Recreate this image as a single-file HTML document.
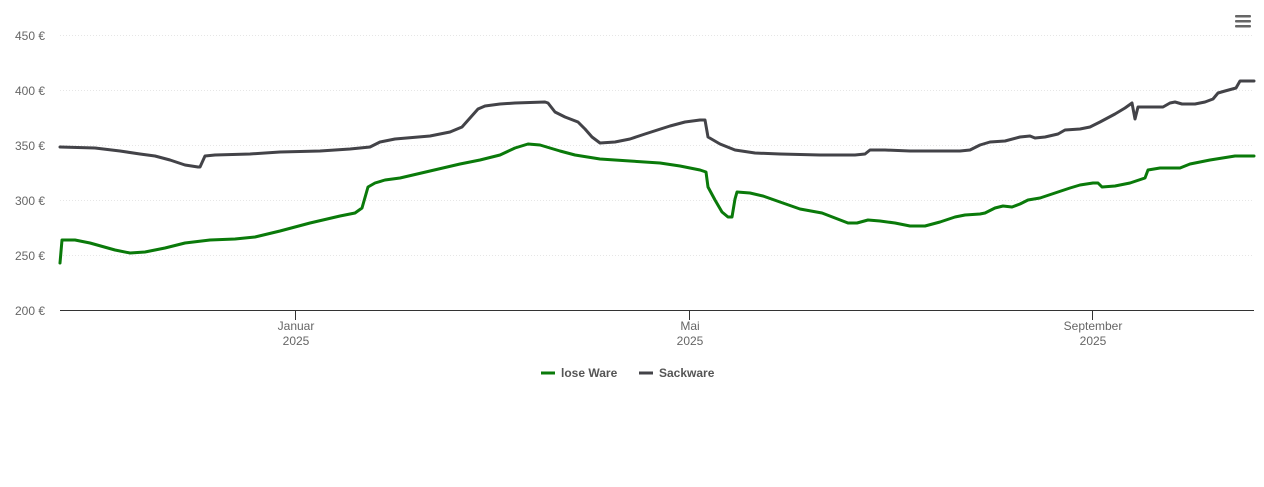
<!DOCTYPE html>
<html><head><meta charset="utf-8"><style>
body{margin:0;background:#fff;}
svg text{font-family:"Liberation Sans",Arial,sans-serif;}
</style></head><body>
<svg width="1264" height="482" xmlns="http://www.w3.org/2000/svg">
<g stroke="#e6e6e6" stroke-dasharray="1,2" stroke-width="1">
<line x1="60" y1="35.5" x2="1254" y2="35.5"/>
<line x1="60" y1="90.5" x2="1254" y2="90.5"/>
<line x1="60" y1="145.5" x2="1254" y2="145.5"/>
<line x1="60" y1="200.5" x2="1254" y2="200.5"/>
<line x1="60" y1="255.5" x2="1254" y2="255.5"/>
</g>
<line x1="60" y1="310.5" x2="1254" y2="310.5" stroke="#333" stroke-width="1"/>
<g stroke="#333"><line x1="295.5" y1="310" x2="295.5" y2="320"/><line x1="689.5" y1="310" x2="689.5" y2="320"/><line x1="1092.5" y1="310" x2="1092.5" y2="320"/></g>
<g font-size="12" fill="#666" text-anchor="end">
<text x="45" y="40">450 €</text><text x="45" y="95">400 €</text><text x="45" y="150">350 €</text>
<text x="45" y="205">300 €</text><text x="45" y="260">250 €</text><text x="45" y="315">200 €</text>
</g>
<g font-size="12" fill="#666" text-anchor="middle">
<text x="296" y="330">Januar</text><text x="296" y="345">2025</text>
<text x="690" y="330">Mai</text><text x="690" y="345">2025</text>
<text x="1093" y="330">September</text><text x="1093" y="345">2025</text>
</g>
<polyline fill="none" stroke="#434348" stroke-width="3" stroke-linejoin="round" stroke-linecap="round" points="60,147 95,148 120,151 140,154 155,156 170,160 185,165 198,167 200,167 205,156 215,155 250,154 280,152 320,151 350,149 370,147 380,142 395,139 430,136 450,132 462,127 470,118 478,109 485,106 500,104 515,103 545,102 548,103 555,112 565,117 578,122 585,129 592,137 600,143 615,142 630,139 645,134 670,126 685,122 700,120 705,120 708,137 720,144 735,150 755,153 780,154 820,155 855,155 865,154 870,150 885,150 910,151 960,151 970,150 980,145 990,142 1005,141 1020,137 1030,136 1035,138 1045,137 1058,134 1065,130 1080,129 1090,127 1100,122 1115,114 1125,108 1132,103 1135,119 1138,107 1150,107 1163,107 1170,103 1175,102 1182,104 1195,104 1205,102 1213,99 1218,93 1225,91 1236,88 1240,81 1254,81"/>
<polyline fill="none" stroke="#0a7a0a" stroke-width="3" stroke-linejoin="round" stroke-linecap="round" points="60,263 62,240 75,240 90,243 115,250 130,253 145,252 165,248 185,243 210,240 235,239 255,237 280,231 310,223 340,216 355,213 362,208 368,187 375,183 385,180 400,178 430,171 460,164 480,160 500,155 515,148 528,144 540,145 560,151 575,155 600,159 630,161 660,163 680,166 700,170 706,172 708,187 715,200 722,212 728,217 732,217 735,199 737,192 750,193 763,196 780,202 800,209 822,213 835,218 848,223 857,223 868,220 880,221 895,223 910,226 925,226 940,222 955,217 965,215 980,214 985,213 995,208 1003,206 1012,207 1020,204 1028,200 1040,198 1055,193 1070,188 1080,185 1093,183 1098,183 1102,187 1115,186 1130,183 1145,178 1148,170 1160,168 1180,168 1190,164 1210,160 1235,156 1254,156"/>
<g fill="#666"><rect x="1235" y="15" width="16" height="2.5" rx="1"/><rect x="1235" y="20" width="16" height="2.5" rx="1"/><rect x="1235" y="25" width="16" height="2.5" rx="1"/></g>
<line x1="541" y1="373" x2="555" y2="373" stroke="#0a7a0a" stroke-width="3"/>
<text x="561" y="377" font-size="12" font-weight="bold" fill="#555">lose Ware</text>
<line x1="639" y1="373" x2="653" y2="373" stroke="#434348" stroke-width="3"/>
<text x="659" y="377" font-size="12" font-weight="bold" fill="#555">Sackware</text>
</svg>
</body></html>
